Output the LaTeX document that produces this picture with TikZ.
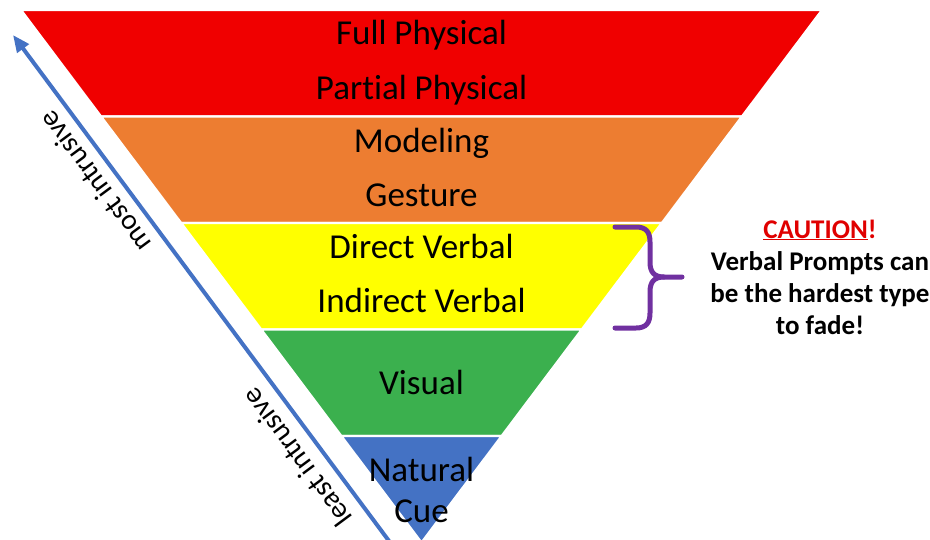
\documentclass[tikz,border=0pt]{standalone}
\usepackage{fontspec}
\setmainfont{Carlito}[RawFeature={-liga;-calt;-clig}]
\usetikzlibrary{arrows.meta}
\definecolor{bred}{HTML}{F00000}
\definecolor{borange}{HTML}{ED7D31}
\definecolor{byellow}{HTML}{FFFF00}
\definecolor{bgreen}{HTML}{3BB04E}
\definecolor{bblue}{HTML}{4472C4}
\definecolor{bpurple}{HTML}{7030A0}
\definecolor{cred}{HTML}{E00000}
\tikzset{
  band/.style={draw=white, line width=2.2pt, line join=miter},
  lbl/.style={font=\fontsize{35}{35}\selectfont, anchor=base, inner sep=0pt},
  side/.style={font=\fontsize{29}{29}\selectfont, inner sep=0pt},
  arr/.style={draw=bblue, line width=4pt, -{Triangle[length=17pt,width=14pt]}},
  brace/.style={draw=bpurple, line width=5pt, line cap=round, line join=round},
  note/.style={font=\bfseries\fontsize{27}{32}\selectfont, align=center, inner sep=0pt}
}
\begin{document}
\begin{tikzpicture}[x=1pt,y=-1pt]
\useasboundingbox (0,0) rectangle (930,539);
% bands
\fill[bred,band]    (21,10) -- (822,10) -- (741.9,116.5) -- (101.1,116.5) -- cycle;
\fill[borange,band] (101.1,116.5) -- (741.9,116.5) -- (661.8,223) -- (181.2,223) -- cycle;
\fill[byellow,band] (181.2,223) -- (661.8,223) -- (581.7,329.5) -- (261.3,329.5) -- cycle;
\fill[bgreen,band]  (261.3,329.5) -- (581.7,329.5) -- (501.6,436) -- (341.4,436) -- cycle;
\fill[bblue,band]   (341.4,436) -- (501.6,436) -- (421.5,542.5) -- cycle;
% labels
\node[lbl] (fp) at (421.5,44) {Full Physical};
\node[lbl] (pp) at (421.5,99) {Partial Physical};
\node[lbl] (mo) at (421.5,152) {Modeling};
\node[lbl] (ge) at (421.5,206) {Gesture};
\node[lbl] (dv) at (421.5,258) {Direct Verbal};
\node[lbl] (iv) at (421.5,312) {Indirect Verbal};
\node[lbl] (vi) at (421.5,394) {Visual};
\node[lbl] (nc) at (421.5,481) {Natural};
\node[lbl] (cu) at (421.5,522) {Cue};
% arrow
\coordinate (arrS) at (389,541);
\coordinate (arrE) at (13,35);
\draw[arr] (arrS) -- (arrE);
\node[side, rotate=126.6] (most) at (95,182) {most intrusive};
\node[side, rotate=126.6] (least) at (297,458) {least intrusive};
% brace
\coordinate (bt) at (615,227);
\coordinate (bm) at (682,277);
\coordinate (bb) at (615,328);
\draw[brace] (bt) -- (636,227) .. controls (646,227) and (650,232) .. (650,242) -- (650,262)
  .. controls (650,272) and (654,277) .. (664,277) -- (bm);
\draw[brace] (664,277) .. controls (654,277) and (650,282) .. (650,292) -- (650,313)
  .. controls (650,323) and (646,328) .. (636,328) -- (bb);
% caution note
\node[note, anchor=base] (caution) at (820,334) {\textcolor{cred}{\underline{CAUTION}!}\\Verbal Prompts can\\be the hardest type\\to fade!};
\end{tikzpicture}
\end{document}
